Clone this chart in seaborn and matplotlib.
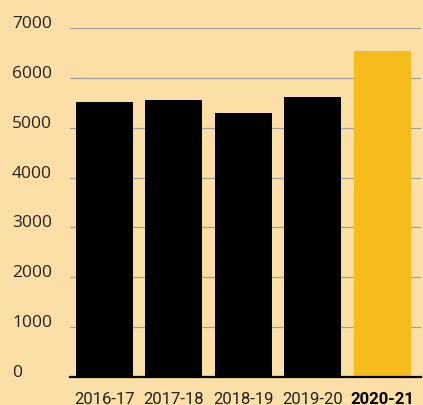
import matplotlib
matplotlib.use("Agg")
import matplotlib.pyplot as plt
import matplotlib.transforms as mtransforms
import seaborn as sns
import pandas as pd

categories = ["2016-17", "2017-18", "2018-19", "2019-20", "2020-21"]
values = [5510, 5550, 5290, 5610, 6530]
bar_colors = ["#000000", "#000000", "#000000", "#000000", "#F5BC1C"]
yticks = [0, 1000, 2000, 3000, 4000, 5000, 6000, 7000]

BG = "#FCDFA6"
W, H = 423, 406

sns.set_theme(style="white")
plt.rcParams["font.family"] = ["Roboto", "DejaVu Sans"]

fig = plt.figure(figsize=(W / 100, H / 100), dpi=100)
fig.patch.set_facecolor(BG)
left, right = 69.75, 421
bottom_px, top_px = 378, 29
ax = fig.add_axes([left / W, (H - bottom_px) / H, (right - left) / W, (bottom_px - top_px) / H])
ax.set_facecolor(BG)

df = pd.DataFrame({"cat": categories, "val": values})
sns.barplot(data=df, x="cat", y="val", hue="cat", palette=bar_colors,
            legend=False, width=0.82, saturation=1, linewidth=0, ax=ax, zorder=3)

ax.set_ylim(0, 7000)
ax.set_xlim(-0.5, 4.555)
ax.set_yticks(yticks)
ax.set_yticklabels([])
ax.yaxis.grid(True, color="#A0A0A0", linewidth=0.9, zorder=0)
ax.set_axisbelow(True)
ax.tick_params(axis="both", length=0)
ax.set_xlabel("")
ax.set_ylabel("")

for s in ["top", "right", "left"]:
    ax.spines[s].set_visible(False)
ax.spines["bottom"].set_color("#000000")
ax.spines["bottom"].set_linewidth(1.6)
ax.spines["bottom"].set_zorder(5)

# y labels, left aligned at fixed x
trans = mtransforms.blended_transform_factory(fig.transFigure, ax.transData)
trans = trans + mtransforms.ScaledTranslation(0, 5 / 100, fig.dpi_scale_trans)
for v in yticks:
    ax.text(12 / W, v, f"{v}", transform=trans, ha="left", va="center",
            fontsize=12.5, color="#222222", family=["Open Sans", "DejaVu Sans"])

ax.set_xticks(range(len(categories)))
ax.set_xticklabels(categories, fontsize=12, color="#222222")
ax.tick_params(axis="x", pad=10)
lbls = ax.get_xticklabels()
lbls[-1].set_fontweight("bold")
lbls[-1].set_color("#000000")

fig.savefig("out.png", dpi=100, facecolor=BG)
